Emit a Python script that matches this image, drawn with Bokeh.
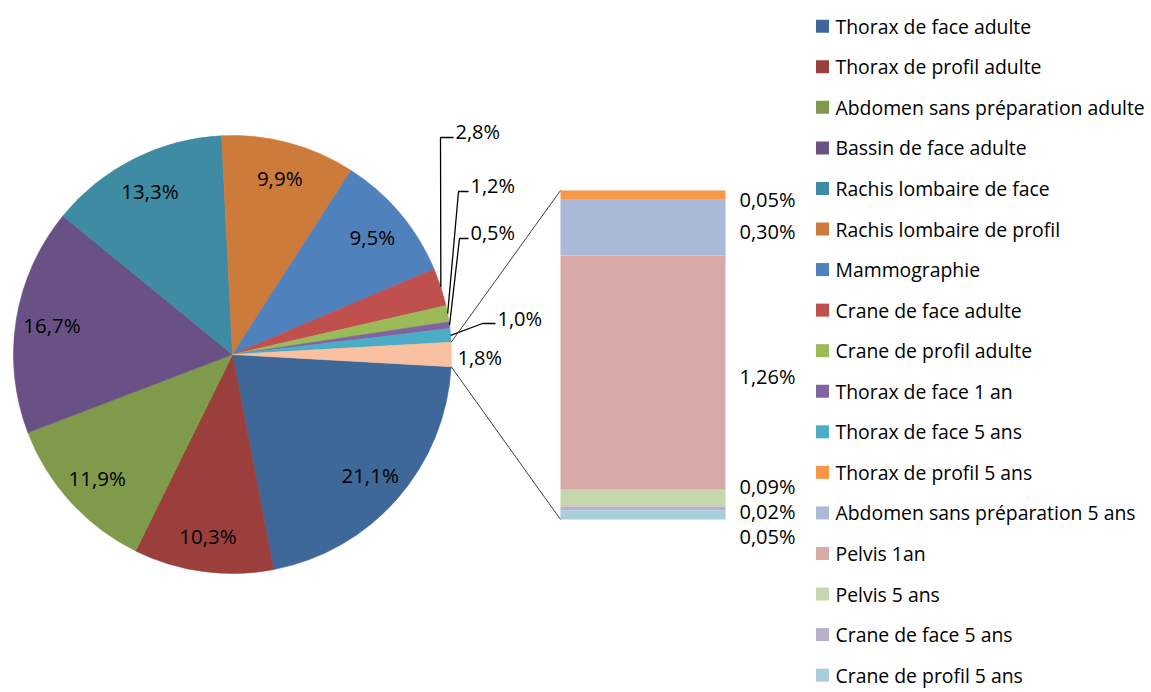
import math
from bokeh.plotting import figure
from bokeh.models import Range1d
from bokeh.embed import file_html
from bokeh.resources import INLINE
from bokeh.core.properties import value

# ---------------- data ----------------
pie_categories = [
    "Thorax de face adulte", "Thorax de profil adulte", "Abdomen sans préparation adulte",
    "Bassin de face adulte", "Rachis lombaire de face", "Rachis lombaire de profil",
    "Mammographie", "Crane de face adulte", "Crane de profil adulte",
    "Thorax de face 1 an", "Thorax de face 5 ans",
]
pie_values = [21.1, 10.3, 11.9, 16.7, 13.3, 9.9, 9.5, 2.8, 1.2, 0.5, 1.0]

bar_categories = [
    "Thorax de profil 5 ans", "Abdomen sans préparation 5 ans", "Pelvis 1an",
    "Pelvis 5 ans", "Crane de face 5 ans", "Crane de profil 5 ans",
]
bar_values = [0.05, 0.30, 1.26, 0.09, 0.02, 0.05]

# ---------------- styles ----------------
pie_colors = ["#3E6898", "#9B3F3D", "#7F9A4B", "#695186", "#3E8BA3", "#CC7B3A",
              "#4F81BD", "#C0504D", "#9BBB59", "#8064A2", "#4BACC6"]
bar_colors = ["#F79646", "#A9B9D7", "#D9A9A8", "#C6D7AD", "#B9AFCA", "#A8CEDC"]
other_color = "#F9C0A1"
FONT = "Open Sans"
TXT = "#000000"

# ---------------- layout (screen px) ----------------
W, H = 1150, 690
CX, CY, R = 232, 354, 219
BAR_L, BAR_R, BAR_TOP, BAR_BOT = 560, 725, 190, 519
LEG_SQ_X, LEG_TXT_X, LEG_Y0, LEG_DY = 822, 835, 25.7, 40.56
# outside labels for the small slices: text anchor (left, middle) and elbow of leader
small_label_text = [(455, 131), (470, 185), (470, 232), (497, 318)]
small_label_elbow = [(440, 137), (458, 191), (459, 238), (482, 323)]


def Y(sy):
    return H - sy


def fmt(v, d):
    return (f"{v:.{d}f}").replace(".", ",") + "%"


p = figure(width=W, height=H, x_range=Range1d(0, W), y_range=Range1d(0, H),
           x_axis_type=None, y_axis_type=None, toolbar_location=None,
           output_backend="svg", min_border=0)
p.outline_line_color = None
p.background_fill_color = "white"
p.border_fill_color = "white"

other = sum(bar_values)
total = sum(pie_values) + other
dpv = 360.0 / total
half = other * dpv / 2

# pie wedges
starts, ends, mids = [], [], []
cursor = -half
for v in pie_values:
    e = cursor
    s = cursor - v * dpv
    starts.append(s)
    ends.append(e)
    mids.append((s + e) / 2)
    cursor = s

p.wedge(x=[CX] * len(pie_values), y=[Y(CY)] * len(pie_values), radius=R, radius_units="screen",
        start_angle=[math.radians(a) for a in starts], end_angle=[math.radians(a) for a in ends],
        direction="anticlock", fill_color=pie_colors, line_color=pie_colors, line_width=0.6)
p.wedge(x=[CX], y=[Y(CY)], radius=R, radius_units="screen",
        start_angle=[math.radians(-half)], end_angle=[math.radians(half)],
        direction="anticlock", fill_color=other_color, line_color=other_color, line_width=0.6)


def edge(a, r=R):
    return CX + r * math.cos(math.radians(a)), CY - r * math.sin(math.radians(a))


# inside labels / outside labels with leaders
in_x, in_y, in_t = [], [], []
k = 0
small_x, small_y, small_t = [], [], []
for i, v in enumerate(pie_values):
    if v >= 5:
        x, y = edge(mids[i], 0.835 * R)
        in_x.append(x); in_y.append(Y(y)); in_t.append(fmt(v, 1))
    else:
        tx, ty = small_label_text[k]
        ex, ey = small_label_elbow[k]
        px, py = edge(mids[i])
        p.line(x=[px, ex, tx - 2], y=[Y(py), Y(ey), Y(ey)], line_color="#000000", line_width=1.3)
        small_x.append(tx); small_y.append(Y(ty)); small_t.append(fmt(v, 1))
        k += 1

p.text(x=in_x, y=in_y, text=in_t, text_font=value(FONT), text_font_size="20.5px",
       text_color=TXT, text_align="center", text_baseline="middle")
p.text(x=small_x, y=small_y, text=small_t, text_font=value(FONT), text_font_size="20px",
       text_color=TXT, text_align="left", text_baseline="middle")
ox, oy = edge(0, R + 6)
p.text(x=[ox], y=[Y(oy + 3)], text=[fmt(other, 1)], text_font=value(FONT), text_font_size="20px",
       text_color=TXT, text_align="left", text_baseline="middle")

# bar of pie
scale = (BAR_BOT - BAR_TOP) / other
tops, bots, centers = [], [], []
cur = BAR_TOP
for v in bar_values:
    tops.append(Y(cur))
    bots.append(Y(cur + v * scale))
    centers.append(cur + v * scale / 2)
    cur += v * scale
p.quad(left=BAR_L, right=BAR_R, top=tops, bottom=bots, fill_color=bar_colors, line_color=None)

# bar labels with simple overlap spreading
GAP = 25
clusters = [[centers[0]]]
for c in centers[1:]:
    if c - clusters[-1][-1] < GAP:
        clusters[-1].append(c)
    else:
        clusters.append([c])
lab_y = []
for cl in clusters:
    m = sum(cl) / len(cl)
    n = len(cl)
    for j in range(n):
        lab_y.append(m + 4 + (j - (n - 1) / 2) * GAP)
p.text(x=[BAR_R + 14] * len(bar_values), y=[Y(v) for v in lab_y], text=[fmt(v, 2) for v in bar_values],
       text_font=value(FONT), text_font_size="20px", text_color=TXT,
       text_align="left", text_baseline="middle")

# connector lines
tx1, ty1 = edge(half)
tx2, ty2 = edge(-half)
p.line(x=[tx1, BAR_L], y=[Y(ty1), Y(BAR_TOP)], line_color="#404040", line_width=1)
p.line(x=[tx2, BAR_L], y=[Y(ty2), Y(BAR_BOT)], line_color="#404040", line_width=1)

# legend
leg_names = pie_categories + bar_categories
leg_colors = pie_colors + bar_colors
leg_y = [Y(LEG_Y0 + i * LEG_DY) for i in range(len(leg_names))]
p.rect(x=[LEG_SQ_X] * len(leg_names), y=leg_y, width=13, height=13,
       width_units="screen", height_units="screen", fill_color=leg_colors, line_color=None)
p.text(x=[LEG_TXT_X] * len(leg_names), y=leg_y, text=leg_names, text_font=value(FONT),
       text_font_size="19.4px", text_color=TXT, text_align="left", text_baseline="middle")

open("out.html", "w").write(file_html(p, INLINE))
